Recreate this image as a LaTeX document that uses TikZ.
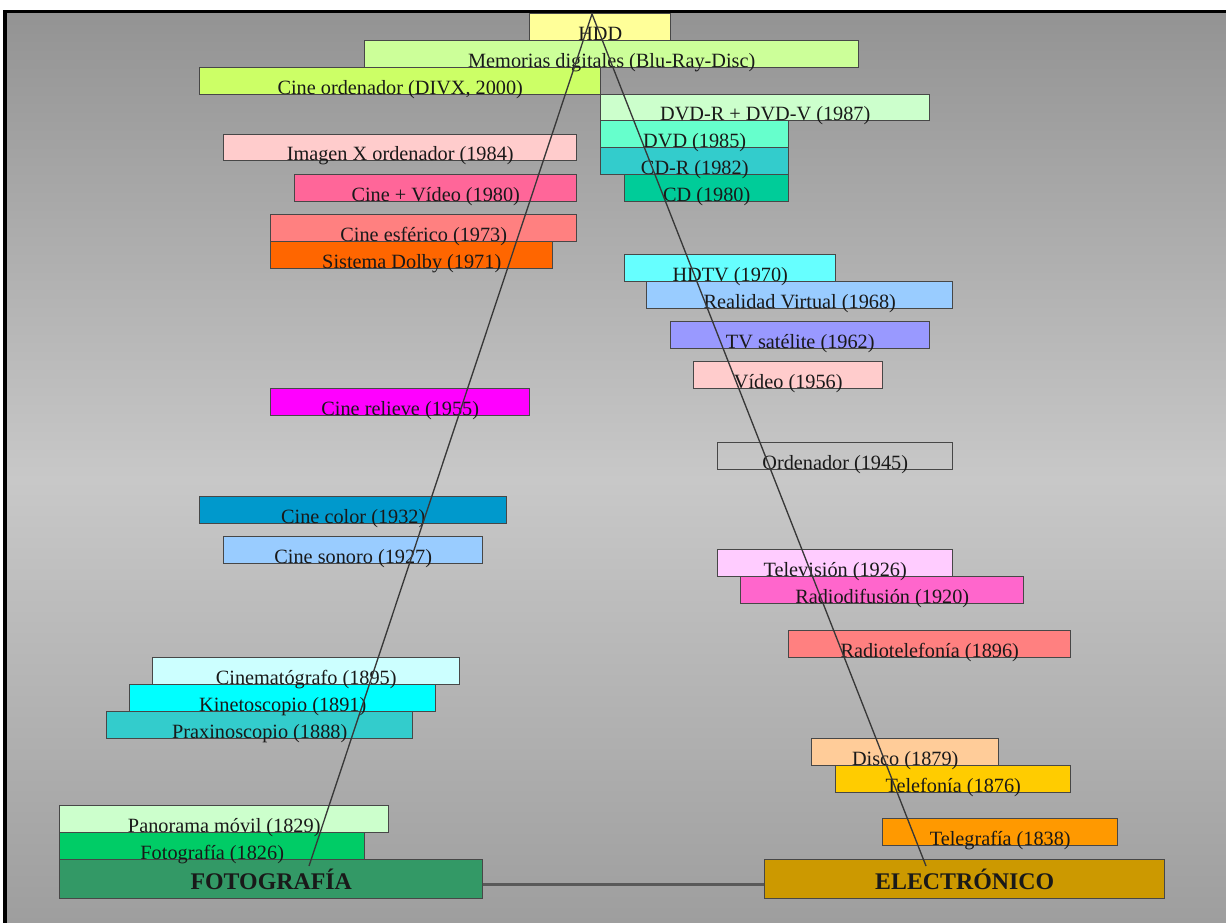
\documentclass[tikz,border=0pt]{standalone}
\usepackage{fontspec}
\setmainfont{Liberation Serif}
\definecolor{cHDD}{HTML}{FFFF99}
\definecolor{cMem}{HTML}{CCFF99}
\definecolor{cCOrd}{HTML}{CCFF66}
\definecolor{cDVDRV}{HTML}{CCFFCC}
\definecolor{cDVD}{HTML}{66FFCC}
\definecolor{cCDR}{HTML}{33CCCC}
\definecolor{cCD}{HTML}{00CC99}
\definecolor{cImX}{HTML}{FFCCCC}
\definecolor{cCVid}{HTML}{FF6699}
\definecolor{cEsf}{HTML}{FF8080}
\definecolor{cDolby}{HTML}{FF6600}
\definecolor{cHDTV}{HTML}{66FFFF}
\definecolor{cRV}{HTML}{99CCFF}
\definecolor{cTVs}{HTML}{9999FF}
\definecolor{cVid}{HTML}{FFCCCC}
\definecolor{cRel}{HTML}{FF00FF}
\definecolor{cColor}{HTML}{0099CC}
\definecolor{cSon}{HTML}{99CCFF}
\definecolor{cTelev}{HTML}{FFCCFF}
\definecolor{cRadiod}{HTML}{FF66CC}
\definecolor{cRadiot}{HTML}{FF8080}
\definecolor{cCinem}{HTML}{CCFFFF}
\definecolor{cKin}{HTML}{00FFFF}
\definecolor{cPrax}{HTML}{33CCCC}
\definecolor{cDisco}{HTML}{FFCC99}
\definecolor{cTelef}{HTML}{FFCC00}
\definecolor{cTelegr}{HTML}{FF9900}
\definecolor{cPan}{HTML}{CCFFCC}
\definecolor{cFot}{HTML}{00CC66}
\definecolor{cFOTO}{HTML}{339966}
\definecolor{cELEC}{HTML}{CC9900}
\definecolor{bgTop}{HTML}{939393}
\definecolor{bgMid}{HTML}{C8C8C8}
\definecolor{bgBot}{HTML}{9E9E9E}
\newcommand\tbox[7]{%
  \pgfmathsetmacro\bw{(#4-#2)*0.75}%
  \pgfmathsetmacro\bh{(#5-#3)*0.75}%
  \node[tb, fill=#1, minimum width=\bw pt, text height=\bh pt] (#6) at (#2,#5) {#7};}
\newcommand\bbox[7]{%
  \pgfmathsetmacro\bw{(#4-#2)*0.75}%
  \pgfmathsetmacro\bh{(#5-#3)*0.75-6.5}%
  \node[tb, big, fill=#1, minimum width=\bw pt, text height=\bh pt, text depth=6.5pt] (#6) at (#2,#5) {#7};}
\begin{document}
\begin{tikzpicture}[x=0.75pt,y=-0.75pt,
  tb/.style={draw=black!72, line width=1.1pt, inner xsep=0pt, inner ysep=0pt,
    text depth=0pt, font=\fontsize{15.2}{17}\selectfont, text=black!90, anchor=south west},
  big/.style={font=\bfseries\fontsize{17.9}{20}\selectfont},
  link/.style={draw=black!78, line width=1pt},
  bar/.style={draw=black!65, line width=2.2pt}]
\useasboundingbox (0,0) rectangle (1226,923);
\fill[white] (0,0) rectangle (1226,923);
\shade[top color=bgTop, bottom color=bgMid] (5,11) rectangle (1226,480);
\shade[top color=bgMid, bottom color=bgBot] (5,479) rectangle (1226,923);
\draw[black, line width=2.4pt] (5,923) -- (5,11.5) -- (1226,11.5);
% boxes, lowest first
\bbox{cELEC}{764}{860}{1164}{899}{elec}{ELECTRÓNICO}
\bbox{cFOTO}{59}{860}{482}{899}{foto}{FOTOGRAFÍA}
\tbox{cTelegr}{882}{819}{1117}{846}{telegr}{Telegrafía (1838)}
\tbox{cFot}{59}{833}{364}{860}{fot}{Fotografía (1826)}
\tbox{cPan}{59}{806}{388}{833}{pan}{Panorama móvil (1829)}
\tbox{cTelef}{835}{766}{1070}{793}{telef}{Telefonía (1876)}
\tbox{cDisco}{811}{739}{998}{766}{disco}{Disco (1879)}
\tbox{cPrax}{106}{712}{412}{739}{prax}{Praxinoscopio (1888)}
\tbox{cKin}{129}{685}{435}{712}{kin}{Kinetoscopio (1891)}
\tbox{cCinem}{152}{658}{459}{685}{cinem}{Cinematógrafo (1895)}
\tbox{cRadiot}{788}{631}{1070}{658}{radiot}{Radiotelefonía (1896)}
\tbox{cRadiod}{740}{577}{1023}{604}{radiod}{Radiodifusión (1920)}
\tbox{cTelev}{717}{550}{952}{577}{telev}{Televisión (1926)}
\tbox{cSon}{223}{537}{482}{564}{son}{Cine sonoro (1927)}
\tbox{cColor}{199}{497}{506}{524}{color}{Cine color (1932)}
\tbox{none}{717}{443}{952}{470}{orden}{Ordenador (1945)}
\tbox{cRel}{270}{389}{529}{416}{relieve}{Cine relieve (1955)}
\tbox{cVid}{693}{362}{882}{389}{video}{Vídeo (1956)}
\tbox{cTVs}{670}{322}{929}{349}{tvsat}{TV satélite (1962)}
\tbox{cRV}{646}{282}{952}{309}{rv}{Realidad Virtual (1968)}
\tbox{cHDTV}{624}{255}{835}{282}{hdtv}{HDTV (1970)}
\tbox{cDolby}{270}{242}{552}{269}{dolby}{Sistema Dolby (1971)}
\tbox{cEsf}{270}{215}{576}{242}{esf}{Cine esférico (1973)}
\tbox{cCVid}{294}{175}{576}{202}{cvid}{Cine + Vídeo (1980)}
\tbox{cCD}{624}{175}{788}{202}{cd}{CD (1980)}
\tbox{cCDR}{600}{148}{788}{175}{cdr}{CD-R (1982)}
\tbox{cImX}{223}{135}{576}{161}{imx}{Imagen X ordenador (1984)}
\tbox{cDVD}{600}{121}{788}{148}{dvd}{DVD (1985)}
\tbox{cDVDRV}{600}{95}{929}{121}{dvdrv}{DVD-R + DVD-V (1987)}
\tbox{cCOrd}{199}{68}{600}{95}{cord}{Cine ordenador (DIVX, 2000)}
\tbox{cMem}{364}{41}{858}{68}{mem}{Memorias digitales (Blu-Ray-Disc)}
\tbox{cHDD}{529}{14}{670}{41}{hdd}{HDD}
% connectors
\coordinate (apex) at (592,14);
\coordinate (fend) at (309,866);
\coordinate (eend) at (926,866);
\draw[link] (fend) -- (apex) -- (eend);
\draw[bar] ([yshift=-4pt]foto.east) -- ([yshift=-4pt]elec.west);
\end{tikzpicture}
\end{document}
